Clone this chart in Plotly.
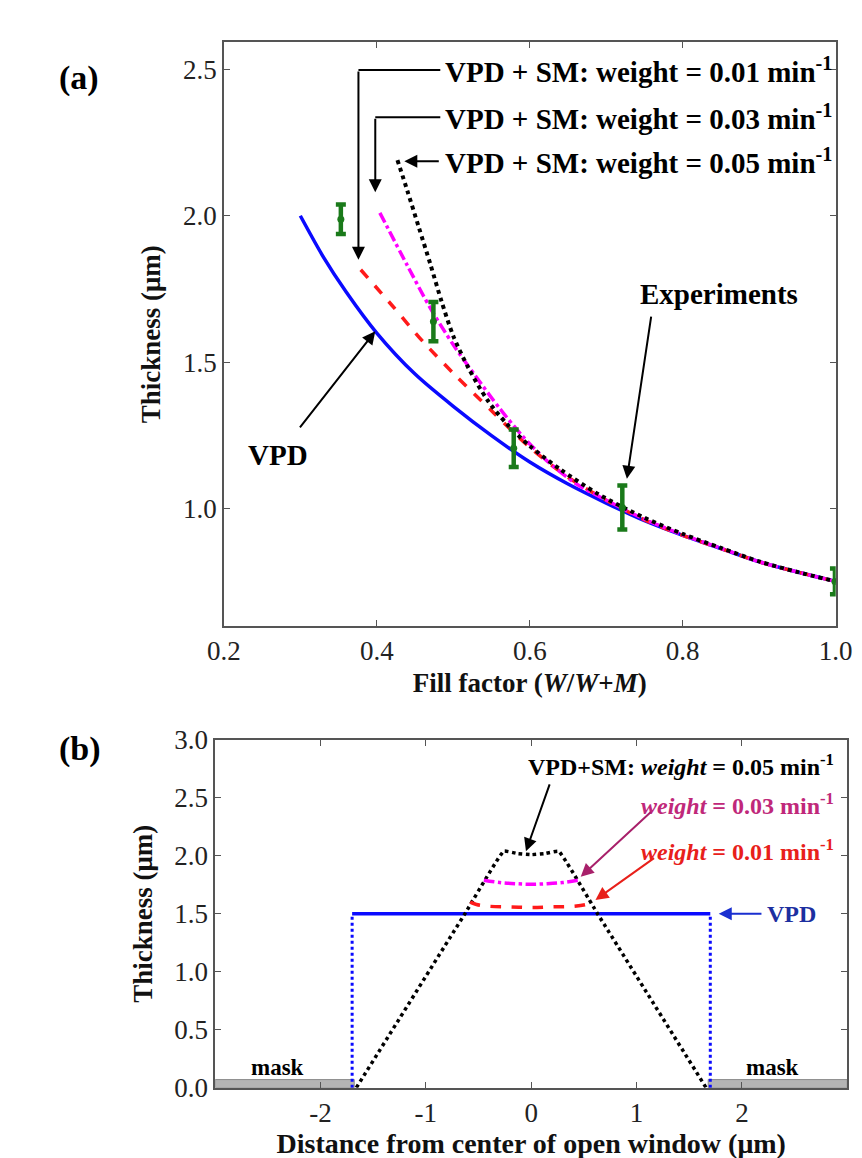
import plotly.graph_objects as go

SERIF = "Liberation Serif, Times New Roman, serif"

# ---------------- Panel (a) data ----------------
vpd_x = [0.30, 0.33, 0.36, 0.40, 0.45, 0.50, 0.55, 0.60, 0.65, 0.70, 0.75, 0.80, 0.85, 0.90, 0.95, 1.00]
vpd_y = [2.00, 1.86, 1.74, 1.60, 1.46, 1.35, 1.25, 1.16, 1.085, 1.02, 0.96, 0.91, 0.865, 0.82, 0.785, 0.753]

w01_x = [0.379, 0.42, 0.46, 0.50, 0.55, 0.60, 0.65, 0.70, 0.75, 0.80, 0.85, 0.90, 0.95, 1.00]
w01_y = [1.816, 1.694, 1.572, 1.463, 1.335, 1.21, 1.108, 1.03, 0.963, 0.91, 0.865, 0.82, 0.785, 0.753]

w03_x = [0.404, 0.44, 0.47, 0.50, 0.53, 0.56, 0.59, 0.62, 0.66, 0.70, 0.75, 0.80, 0.85, 0.90, 0.95, 1.00]
w03_y = [2.010, 1.83, 1.685, 1.56, 1.45, 1.345, 1.25, 1.17, 1.087, 1.03, 0.965, 0.912, 0.866, 0.82, 0.785, 0.753]

w05_x = [0.427, 0.44, 0.455, 0.47, 0.485, 0.50, 0.52, 0.545, 0.57, 0.60, 0.64, 0.69, 0.75, 0.80, 0.85, 0.90, 0.95, 1.00]
w05_y = [2.190, 2.085, 1.96, 1.835, 1.705, 1.59, 1.48, 1.37, 1.29, 1.215, 1.135, 1.05, 0.97, 0.915, 0.867, 0.821, 0.785, 0.753]

exp_x = [0.353, 0.474, 0.579, 0.721, 0.999]
exp_y = [1.988, 1.639, 1.207, 1.005, 0.753]
exp_err = [0.05, 0.067, 0.064, 0.075, 0.044]

# ---------------- Panel (b) data ----------------
mask_l_x = [-3.0, -1.68, -1.68, -3.0, -3.0]
mask_l_y = [0.0, 0.0, 0.07, 0.07, 0.0]
mask_r_x = [1.68, 3.0, 3.0, 1.68, 1.68]
mask_r_y = [0.0, 0.0, 0.07, 0.07, 0.0]

vpdb_x = [-1.7, 1.7]
vpdb_y = [1.5, 1.5]
wall_l_x = [-1.7, -1.7]
wall_r_x = [1.7, 1.7]
wall_y = [0.0, 1.5]

b05_x = [-1.66, -0.63, -0.26, -0.13, 0.0, 0.13, 0.26, 0.63, 1.66]
b05_y = [0.0, 1.5, 2.04, 2.02, 2.01, 2.02, 2.04, 1.5, 0.0]

b03_x = [-0.45, -0.3, -0.15, 0.0, 0.15, 0.3, 0.45]
b03_y = [1.79, 1.77, 1.76, 1.755, 1.76, 1.77, 1.79]

b01_x = [-0.58, -0.52, -0.4, -0.2, 0.0, 0.2, 0.4, 0.52, 0.58]
b01_y = [1.60, 1.58, 1.565, 1.56, 1.555, 1.56, 1.565, 1.58, 1.60]

xa_ticks = [0.2, 0.4, 0.6, 0.8, 1.0]
ya_ticks = [1.0, 1.5, 2.0, 2.5]
xb_ticks = [-2, -1, 0, 1, 2]
yb_ticks = [0.0, 0.5, 1.0, 1.5, 2.0, 2.5, 3.0]

BLUE = "#0a0aff"
RED = "#ff1a1a"
MAG = "#ff00ff"
GREEN = "#1a7a1a"

fig = go.Figure()

# panel (a)
fig.add_trace(go.Scatter(x=vpd_x, y=vpd_y, mode="lines", line=dict(color=BLUE, width=3.5, shape="spline", smoothing=0.8),
                         xaxis="x", yaxis="y"))
fig.add_trace(go.Scatter(x=w01_x, y=w01_y, mode="lines", line=dict(color=RED, width=3.5, dash="dash", shape="spline", smoothing=0.8),
                         xaxis="x", yaxis="y"))
fig.add_trace(go.Scatter(x=w03_x, y=w03_y, mode="lines", line=dict(color=MAG, width=3.5, dash="dashdot", shape="spline", smoothing=0.8),
                         xaxis="x", yaxis="y"))
fig.add_trace(go.Scatter(x=w05_x, y=w05_y, mode="lines", line=dict(color="black", width=4, dash="dot", shape="spline", smoothing=0.8),
                         xaxis="x", yaxis="y"))
fig.add_trace(go.Scatter(x=exp_x, y=exp_y, mode="markers",
                         marker=dict(color=GREEN, size=7),
                         error_y=dict(type="data", array=exp_err, color=GREEN, thickness=4.5, width=5),
                         xaxis="x", yaxis="y"))

# panel (b)
fig.add_trace(go.Scatter(x=mask_l_x, y=mask_l_y, mode="lines", fill="toself", fillcolor="#b4b4b4",
                         line=dict(color="#8c8c8c", width=1), xaxis="x2", yaxis="y2"))
fig.add_trace(go.Scatter(x=mask_r_x, y=mask_r_y, mode="lines", fill="toself", fillcolor="#b4b4b4",
                         line=dict(color="#8c8c8c", width=1), xaxis="x2", yaxis="y2"))
fig.add_trace(go.Scatter(x=wall_l_x, y=wall_y, mode="lines", line=dict(color=BLUE, width=3, dash="dot"),
                         xaxis="x2", yaxis="y2"))
fig.add_trace(go.Scatter(x=wall_r_x, y=wall_y, mode="lines", line=dict(color=BLUE, width=3, dash="dot"),
                         xaxis="x2", yaxis="y2"))
fig.add_trace(go.Scatter(x=vpdb_x, y=vpdb_y, mode="lines", line=dict(color=BLUE, width=3.5),
                         xaxis="x2", yaxis="y2"))
fig.add_trace(go.Scatter(x=b05_x, y=b05_y, mode="lines", line=dict(color="black", width=3.5, dash="dot", shape="spline", smoothing=0.3),
                         xaxis="x2", yaxis="y2"))
fig.add_trace(go.Scatter(x=b03_x, y=b03_y, mode="lines", line=dict(color=MAG, width=3.5, dash="dashdot", shape="spline"),
                         xaxis="x2", yaxis="y2"))
fig.add_trace(go.Scatter(x=b01_x, y=b01_y, mode="lines", line=dict(color=RED, width=3.5, dash="dash", shape="spline"),
                         xaxis="x2", yaxis="y2"))

axis_common = dict(showgrid=False, zeroline=False, showline=True, linecolor="#555555", linewidth=1.5,
                   mirror="ticks", ticks="inside", ticklen=6, tickcolor="#555555",
                   tickfont=dict(family=SERIF, size=27, color="#222222"))

fig.update_layout(
    width=862, height=1158, margin=dict(l=0, r=0, t=0, b=0),
    paper_bgcolor="white", plot_bgcolor="white", showlegend=False,
    xaxis=dict(axis_common, domain=[207/862, 844/862], range=[0.2, 1.0], tickvals=xa_ticks,
               ticktext=["0.2", "0.4", "0.6", "0.8", "1.0"], anchor="y",
               title=dict(text="<b>Fill factor (<i>W</i>/<i>W</i>+<i>M</i>)</b>", font=dict(family=SERIF, size=27, color="#111"), standoff=8)),
    yaxis=dict(axis_common, domain=[1-619/1158, 1-20/1158], range=[0.601, 2.591], tickvals=ya_ticks,
               ticktext=["1.0", "1.5", "2.0", "2.5"], anchor="x",
               title=dict(text="<b>Thickness (μm)</b>", font=dict(family=SERIF, size=27, color="#111"), standoff=14)),
    xaxis2=dict(axis_common, domain=[198/862, 856/862], range=[-3, 3], tickvals=xb_ticks,
                ticktext=["-2", "-1", "0", "1", "2"], anchor="y2",
                title=dict(text="<b>Distance from center of open window (μm)</b>", font=dict(family=SERIF, size=28, color="#111"), standoff=6)),
    yaxis2=dict(axis_common, domain=[1-1093/1158, 1-736/1158], range=[0, 3], tickvals=yb_ticks,
                ticktext=["0.0", "0.5", "1.0", "1.5", "2.0", "2.5", "3.0"], anchor="x2",
                title=dict(text="<b>Thickness (μm)</b>", font=dict(family=SERIF, size=27, color="#111"), standoff=14)),
)

ann = []
def txt(x, y, text, xref, yref, size, color="black", xanchor="center"):
    ann.append(dict(x=x, y=y, xref=xref, yref=yref, text=text, showarrow=False,
                    font=dict(family=SERIF, size=size, color=color), xanchor=xanchor, yanchor="middle"))

def arrow(x0, y0, x1, y1, xr, yr, color="black", width=2):
    ann.append(dict(x=x1, y=y1, ax=x0, ay=y0, xref=xr, yref=yr, axref=xr, ayref=yr, text="",
                    showarrow=True, arrowhead=2, arrowsize=1.3, arrowwidth=width, arrowcolor=color))

# panel labels
ann.append(dict(x=33/862, y=1-35/1158, xref="paper", yref="paper", text="<b>(a)</b>", showarrow=False,
                font=dict(family=SERIF, size=34, color="black")))
ann.append(dict(x=33/862, y=1-745/1158, xref="paper", yref="paper", text="<b>(b)</b>", showarrow=False,
                font=dict(family=SERIF, size=34, color="black")))

# panel (a) annotations
txt(0.486, 2.497, "<b>VPD + SM: weight = 0.01 min<sup>-1</sup></b>", "x", "y", 29, xanchor="left")
txt(0.486, 2.336, "<b>VPD + SM: weight = 0.03 min<sup>-1</sup></b>", "x", "y", 29, xanchor="left")
txt(0.486, 2.186, "<b>VPD + SM: weight = 0.05 min<sup>-1</sup></b>", "x", "y", 29, xanchor="left")
arrow(0.376, 2.497, 0.376, 1.85, "x", "y")
arrow(0.398, 2.336, 0.398, 2.08, "x", "y")
arrow(0.483, 2.186, 0.436, 2.186, "x", "y")
txt(0.271, 1.185, "<b>VPD</b>", "x", "y", 29)
arrow(0.298, 1.273, 0.398, 1.606, "x", "y")
txt(0.847, 1.734, "<b>Experiments</b>", "x", "y", 29)
arrow(0.759, 1.661, 0.727, 1.103, "x", "y")

# panel (b) annotations
txt(2.89, 2.78, "<b>VPD+SM: <i>weight</i> = 0.05 min<sup>-1</sup></b>", "x2", "y2", 24, xanchor="right")
txt(2.89, 2.45, "<b><i>weight</i> = 0.03 min<sup>-1</sup></b>", "x2", "y2", 24, color="#c0287a", xanchor="right")
txt(2.89, 2.05, "<b><i>weight</i> = 0.01 min<sup>-1</sup></b>", "x2", "y2", 24, color="#e8201a", xanchor="right")
arrow(0.18, 2.63, -0.05, 2.04, "x2", "y2")
arrow(1.15, 2.39, 0.47, 1.82, "x2", "y2", color="#a8206a")
arrow(1.18, 1.99, 0.61, 1.62, "x2", "y2", color="#e8201a")
arrow(2.2, 1.5, 1.78, 1.5, "x2", "y2", color="#1a2fd0")
txt(2.47, 1.5, "<b>VPD</b>", "x2", "y2", 24, color="#1c2fa0")
txt(-2.41, 0.17, "<b>mask</b>", "x2", "y2", 23)
txt(2.29, 0.17, "<b>mask</b>", "x2", "y2", 23)

fig.update_layout(annotations=ann)

# horizontal elbow segments of panel (a) arrows
fig.add_shape(type="line", x0=0.483, y0=2.497, x1=0.376, y1=2.497, xref="x", yref="y",
              line=dict(color="black", width=2))
fig.add_shape(type="line", x0=0.483, y0=2.336, x1=0.398, y1=2.336, xref="x", yref="y",
              line=dict(color="black", width=2))

fig.write_html("out.html")
